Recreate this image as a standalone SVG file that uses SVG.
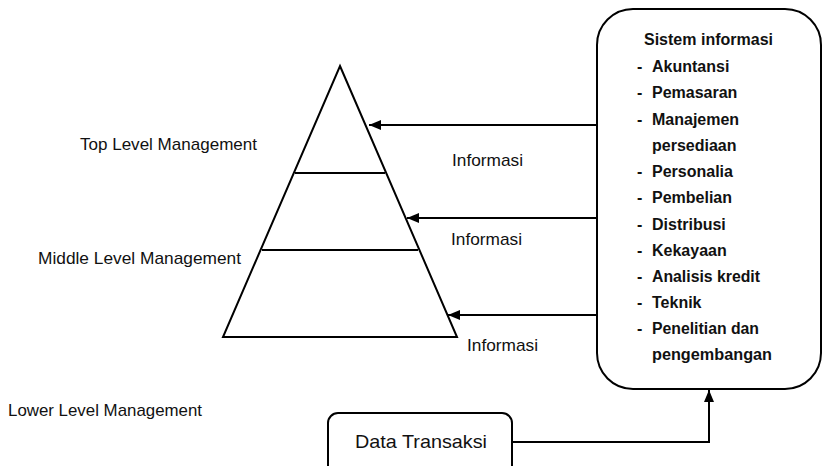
<svg xmlns="http://www.w3.org/2000/svg" width="823" height="466" viewBox="0 0 823 466">
<style>
.ln{fill:none;stroke:#000;stroke-width:2}
.t{font-family:"Liberation Sans",Arial,sans-serif;font-size:17px;fill:#111}
.b{font-family:"Liberation Sans",Arial,sans-serif;font-size:16px;font-weight:bold;fill:#111}
</style>
<defs>
<marker id="ah" markerWidth="12" markerHeight="10" refX="12" refY="5" orient="auto" markerUnits="userSpaceOnUse">
<path d="M0,0 L12,5 L0,10 Z" fill="#000"/>
</marker>
</defs>
<rect width="823" height="466" fill="#fff"/>
<g id="pyramid">
<path class="ln" d="M340,66 L457,337 L223,337 Z"/>
<line class="ln" x1="295" y1="173" x2="385" y2="173"/>
<line class="ln" x1="262" y1="250" x2="418" y2="250"/>
</g>
<g id="labels">
<text class="t" x="80" y="150" textLength="177" lengthAdjust="spacingAndGlyphs">Top Level Management</text>
<text class="t" x="38" y="264" textLength="203" lengthAdjust="spacingAndGlyphs">Middle Level Management</text>
<text class="t" x="8" y="416" textLength="194" lengthAdjust="spacingAndGlyphs">Lower Level Management</text>
<text class="t" x="452" y="166" textLength="71" lengthAdjust="spacingAndGlyphs">Informasi</text>
<text class="t" x="451" y="245" textLength="71" lengthAdjust="spacingAndGlyphs">Informasi</text>
<text class="t" x="467" y="351" textLength="71" lengthAdjust="spacingAndGlyphs">Informasi</text>
</g>
<g id="sistem-informasi">
<rect class="ln" x="597" y="9" width="224" height="380" rx="36" ry="36"/>
<text class="b" x="644" y="45" textLength="129" lengthAdjust="spacingAndGlyphs">Sistem informasi</text>
<g class="b">
<text x="637" y="72">-</text><text x="652" y="72">Akuntansi</text>
<text x="637" y="98">-</text><text x="652" y="98">Pemasaran</text>
<text x="637" y="125">-</text><text x="652" y="125">Manajemen</text>
<text x="652" y="151">persediaan</text>
<text x="637" y="177">-</text><text x="652" y="177">Personalia</text>
<text x="637" y="203">-</text><text x="652" y="203">Pembelian</text>
<text x="637" y="230">-</text><text x="652" y="230">Distribusi</text>
<text x="637" y="256">-</text><text x="652" y="256">Kekayaan</text>
<text x="637" y="282">-</text><text x="652" y="282" textLength="108" lengthAdjust="spacingAndGlyphs">Analisis kredit</text>
<text x="637" y="308">-</text><text x="652" y="308">Teknik</text>
<text x="637" y="334">-</text><text x="652" y="334" textLength="107" lengthAdjust="spacingAndGlyphs">Penelitian dan</text>
<text x="652" y="360" textLength="120" lengthAdjust="spacingAndGlyphs">pengembangan</text>
</g>
</g>
<g id="data-transaksi">
<rect class="ln" x="328" y="413" width="184" height="64" rx="10" ry="10"/>
<text class="t" x="355" y="448" textLength="132" lengthAdjust="spacingAndGlyphs" style="font-size:19px">Data Transaksi</text>
</g>
<g id="connectors">
<line class="ln" x1="597" y1="125" x2="369" y2="125" marker-end="url(#ah)"/>
<line class="ln" x1="597" y1="218" x2="407" y2="218" marker-end="url(#ah)"/>
<line class="ln" x1="597" y1="315" x2="448" y2="315" marker-end="url(#ah)"/>
<polyline class="ln" points="512,442 709,442 709,390" marker-end="url(#ah)"/>
</g>
</svg>
